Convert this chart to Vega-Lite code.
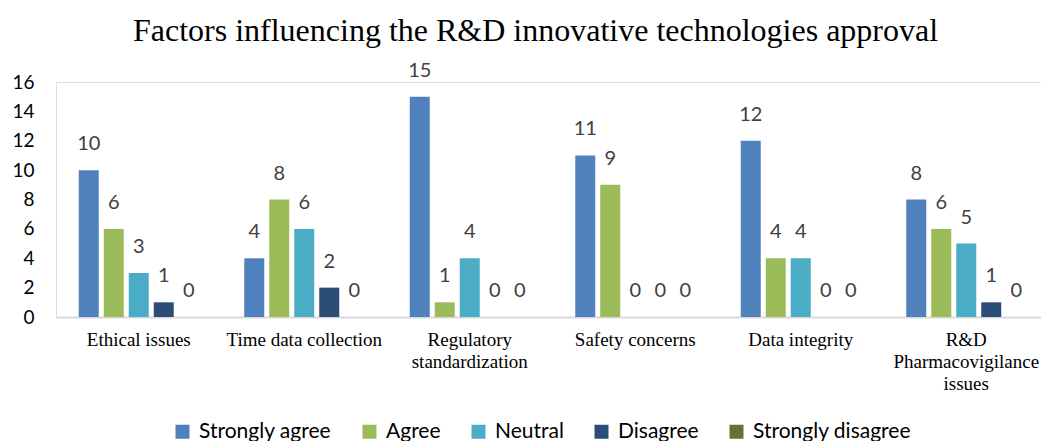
{
  "$schema": "https://vega.github.io/schema/vega-lite/v6.json",
  "autosize": {"type": "none"},
  "width": 985,
  "height": 235,
  "padding": {"left": 56, "top": 82, "right": 0, "bottom": 124},
  "background": "white",
  "title": {
    "text": "Factors influencing the R&D innovative technologies approval",
    "font": "Liberation Serif",
    "fontSize": 32,
    "fontWeight": "normal",
    "color": "#000000",
    "anchor": "middle",
    "dx": -13,
    "offset": 13
  },
  "data": {
    "values": [
      {"category": "Ethical issues", "response": "Strongly agree", "count": 10},
      {"category": "Ethical issues", "response": "Agree", "count": 6},
      {"category": "Ethical issues", "response": "Neutral", "count": 3},
      {"category": "Ethical issues", "response": "Disagree", "count": 1},
      {"category": "Ethical issues", "response": "Strongly disagree", "count": 0},
      {"category": "Time data collection", "response": "Strongly agree", "count": 4},
      {"category": "Time data collection", "response": "Agree", "count": 8},
      {"category": "Time data collection", "response": "Neutral", "count": 6},
      {"category": "Time data collection", "response": "Disagree", "count": 2},
      {"category": "Time data collection", "response": "Strongly disagree", "count": 0},
      {"category": "Regulatory|standardization", "response": "Strongly agree", "count": 15},
      {"category": "Regulatory|standardization", "response": "Agree", "count": 1},
      {"category": "Regulatory|standardization", "response": "Neutral", "count": 4},
      {"category": "Regulatory|standardization", "response": "Disagree", "count": 0},
      {"category": "Regulatory|standardization", "response": "Strongly disagree", "count": 0},
      {"category": "Safety concerns", "response": "Strongly agree", "count": 11},
      {"category": "Safety concerns", "response": "Agree", "count": 9},
      {"category": "Safety concerns", "response": "Neutral", "count": 0},
      {"category": "Safety concerns", "response": "Disagree", "count": 0},
      {"category": "Safety concerns", "response": "Strongly disagree", "count": 0},
      {"category": "Data integrity", "response": "Strongly agree", "count": 12},
      {"category": "Data integrity", "response": "Agree", "count": 4},
      {"category": "Data integrity", "response": "Neutral", "count": 4},
      {"category": "Data integrity", "response": "Disagree", "count": 0},
      {"category": "Data integrity", "response": "Strongly disagree", "count": 0},
      {"category": "R&D|Pharmacovigilance|issues", "response": "Strongly agree", "count": 8},
      {"category": "R&D|Pharmacovigilance|issues", "response": "Agree", "count": 6},
      {"category": "R&D|Pharmacovigilance|issues", "response": "Neutral", "count": 5},
      {"category": "R&D|Pharmacovigilance|issues", "response": "Disagree", "count": 1},
      {"category": "R&D|Pharmacovigilance|issues", "response": "Strongly disagree", "count": 0}
    ]
  },
  "encoding": {
    "x": {
      "field": "category",
      "type": "nominal",
      "sort": null,
      "scale": {"range": [0, 993], "paddingInner": 0.275, "paddingOuter": 0.1375},
      "axis": {
        "title": null,
        "labelAngle": 0,
        "labelExpr": "split(datum.label, '|')",
        "labelFont": "Liberation Serif",
        "labelFontSize": 19,
        "labelColor": "#000000",
        "labelLineHeight": 22,
        "labelBaseline": "top",
        "labelPadding": 13,
        "labelOverlap": false,
        "labelLimit": 0,
        "ticks": false,
        "domainColor": "#d9d9d9",
        "domainWidth": 2,
        "grid": false
      }
    },
    "xOffset": {
      "field": "response",
      "type": "nominal",
      "sort": ["Strongly agree", "Agree", "Neutral", "Disagree", "Strongly disagree"],
      "scale": {"paddingInner": 0.2, "paddingOuter": 0}
    },
    "y": {
      "field": "count",
      "type": "quantitative",
      "scale": {"domain": [0, 16], "nice": false},
      "axis": {
        "title": null,
        "values": [0, 2, 4, 6, 8, 10, 12, 14, 16],
        "labelFont": "Lato",
        "labelFontSize": 19,
        "labelColor": "#000000",
        "labelPadding": 22,
        "ticks": false,
        "domain": false,
        "grid": false
      }
    }
  },
  "layer": [
    {
      "mark": {"type": "bar"},
      "encoding": {
        "color": {
          "field": "response",
          "type": "nominal",
          "sort": ["Strongly agree", "Agree", "Neutral", "Disagree", "Strongly disagree"],
          "scale": {
            "domain": ["Strongly agree", "Agree", "Neutral", "Disagree", "Strongly disagree"],
            "range": ["#4F81BD", "#9BBB59", "#4BACC6", "#2C4D75", "#5F7530"]
          },
          "legend": {
            "title": null,
            "orient": "none",
            "direction": "horizontal",
            "legendX": 116,
            "legendY": 339,
            "symbolType": "square",
            "symbolSize": 196,
            "symbolStrokeWidth": 0,
            "labelFont": "Lato",
            "labelFontSize": 21,
            "labelColor": "#000000",
            "labelOffset": 6,
            "columnPadding": 27,
            "labelLimit": 0
          }
        }
      }
    },
    {
      "mark": {
        "type": "text",
        "font": "Lato",
        "fontSize": 20,
        "color": "#404040",
        "baseline": "middle",
        "dy": -26
      },
      "encoding": {
        "text": {"field": "count", "type": "quantitative"}
      }
    }
  ]
}
